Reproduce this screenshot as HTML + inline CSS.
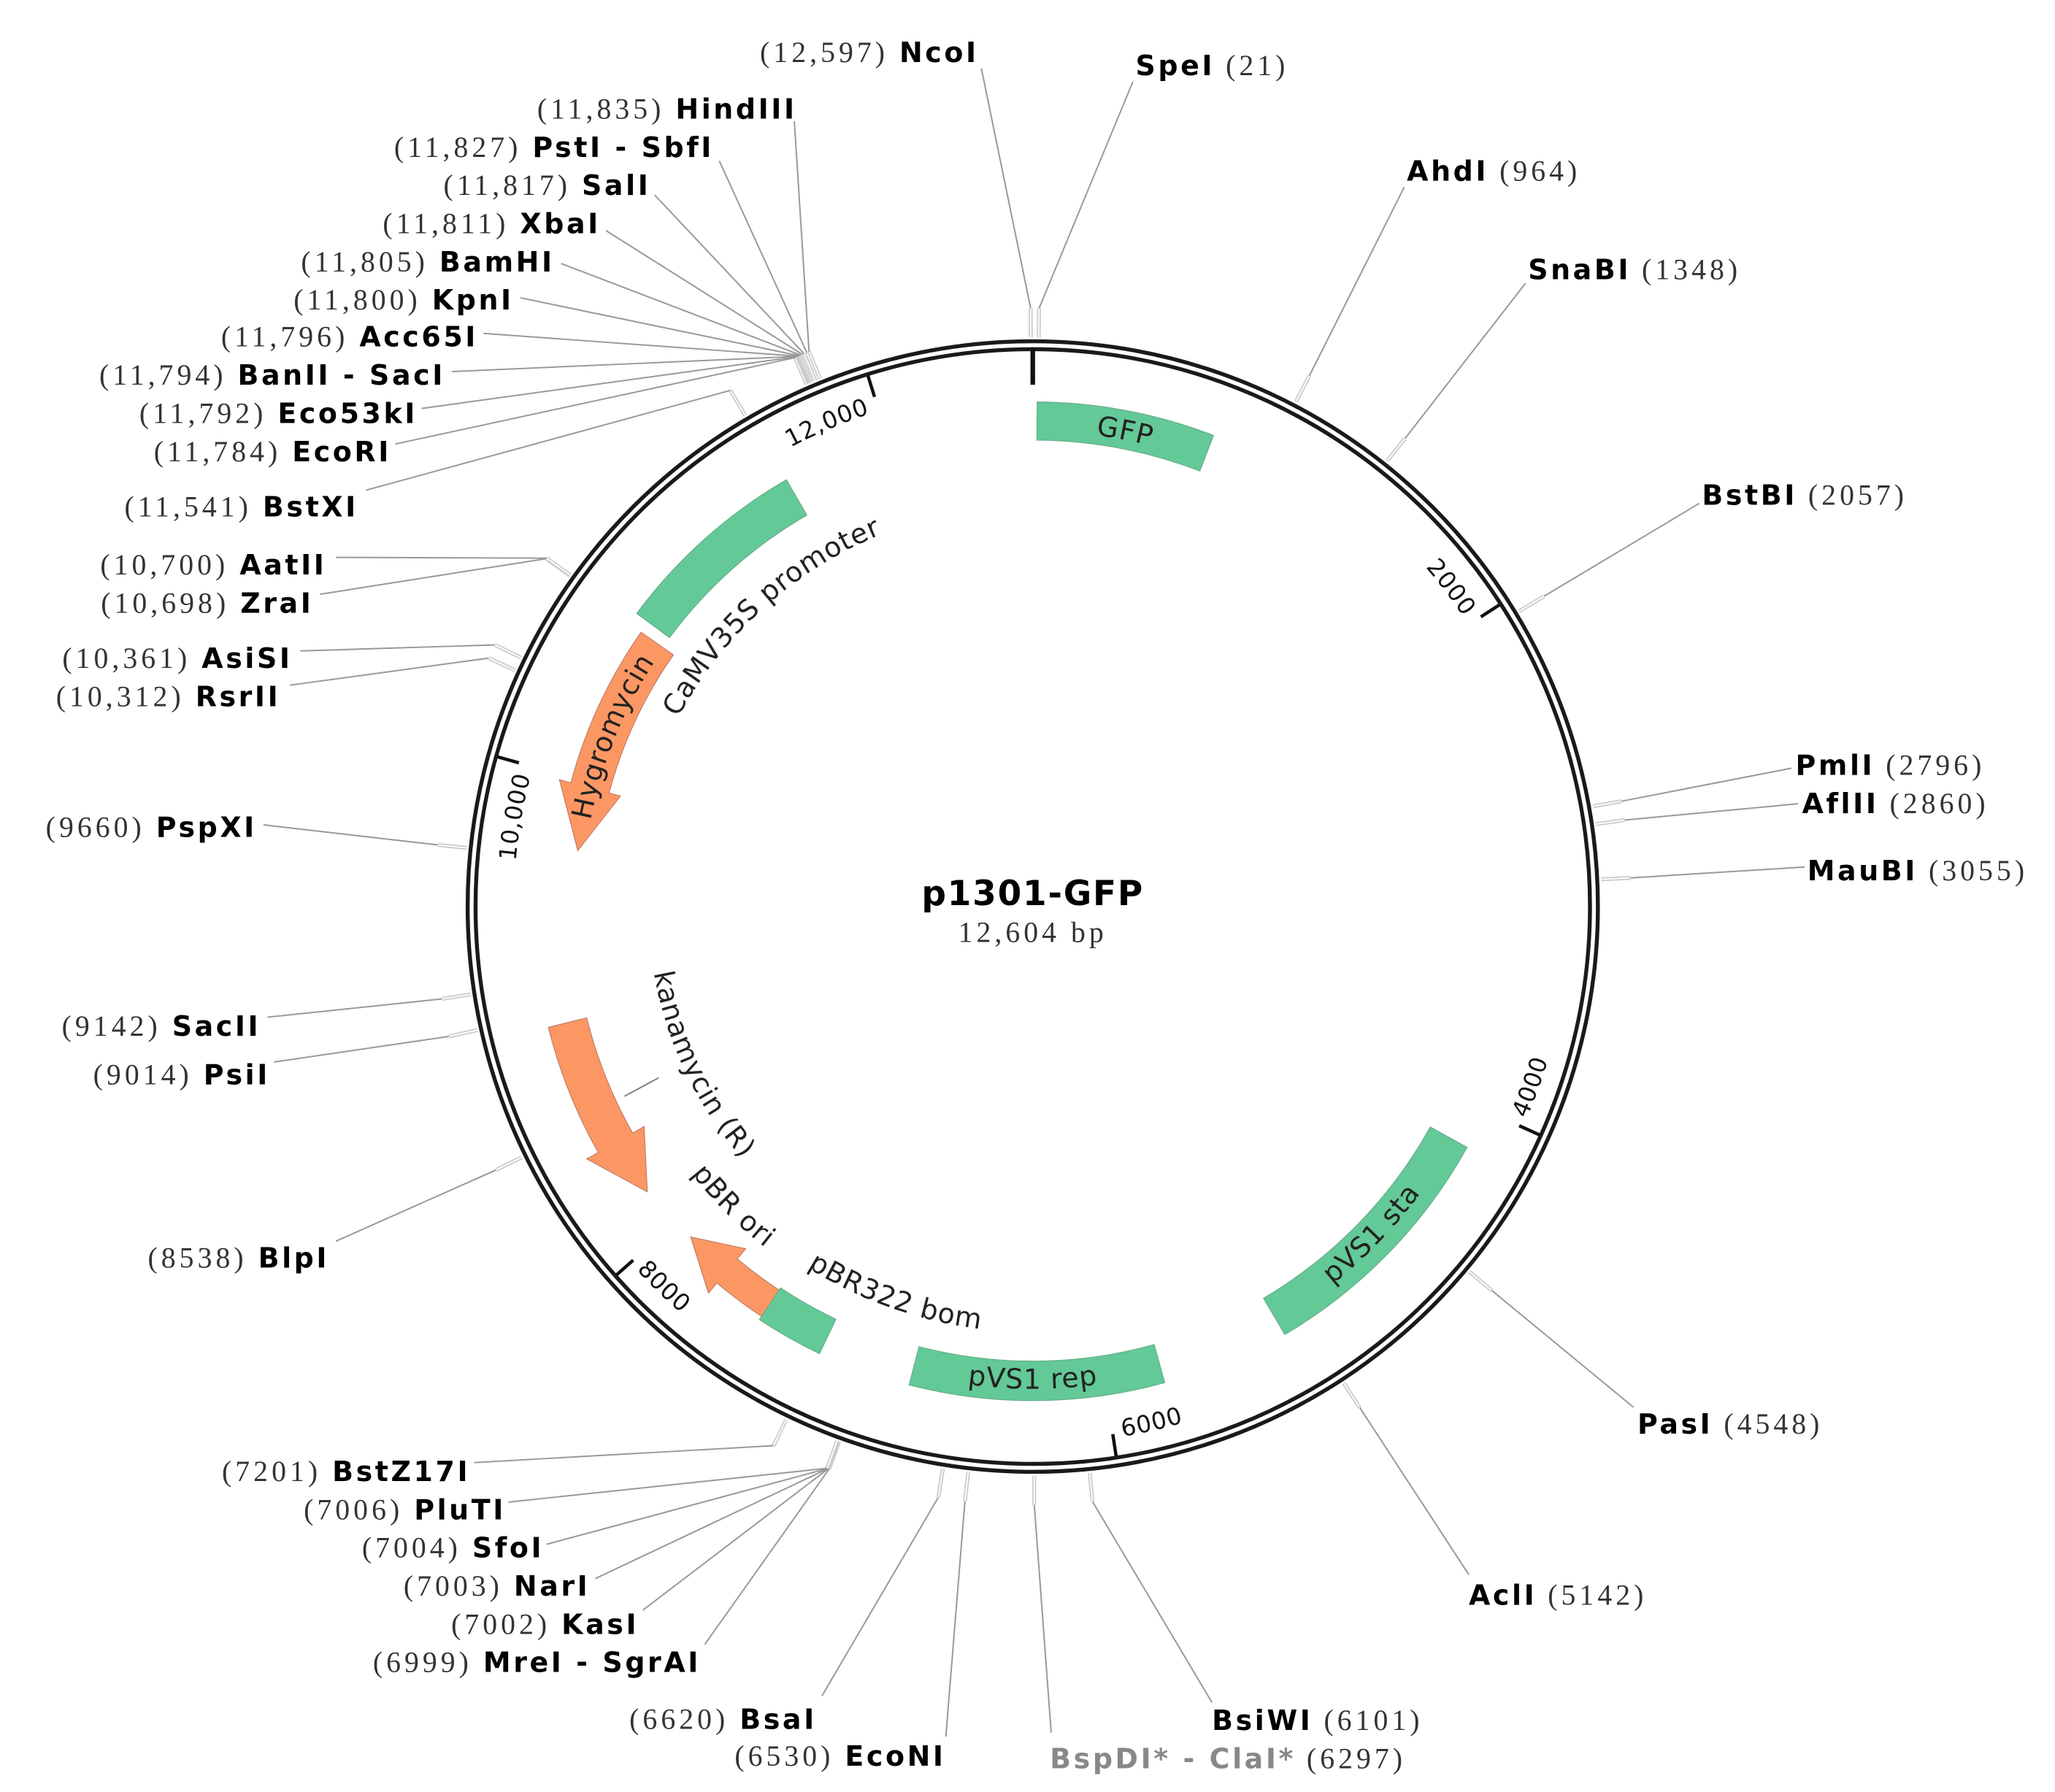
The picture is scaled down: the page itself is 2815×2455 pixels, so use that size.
<!DOCTYPE html>
<html><head><meta charset="utf-8">
<style>
html,body{margin:0;padding:0;background:#fff;}
svg{display:block;}
.n{font-family:"Liberation Serif","DejaVu Serif",serif;fill:#333;font-size:22px;letter-spacing:2.8px;}
.b{font-family:"DejaVu Sans","Liberation Sans",sans-serif;font-weight:bold;fill:#000;font-size:21px;letter-spacing:2px;}
.g{fill:#888;}
.f{font-family:"DejaVu Sans","Liberation Sans",sans-serif;font-size:21px;fill:#222;letter-spacing:0.5px;}
.t{font-family:"DejaVu Sans","Liberation Sans",sans-serif;font-size:18px;fill:#111;letter-spacing:0.5px;}
</style></head>
<body>
<svg width="2815" height="2455" viewBox="0 0 1560 1360" preserveAspectRatio="none" xmlns="http://www.w3.org/2000/svg">
<defs id="defs"></defs>
<g id="lines"></g>
<g id="feat"></g>
<circle cx="784" cy="688" r="426" fill="none" stroke="#1a1a1a" stroke-width="9"/>
<circle cx="784" cy="688" r="426" fill="none" stroke="#fff" stroke-width="3"/>
<g id="ticks"></g>

<text class="f"><textPath href="#pGFP" startOffset="50%" text-anchor="middle">GFP</textPath></text>
<text class="f"><textPath href="#pCaMV" startOffset="50%" text-anchor="middle">CaMV35S promoter</textPath></text>
<text class="f"><textPath href="#pHyg" startOffset="50%" text-anchor="middle">Hygromycin</textPath></text>
<text class="f"><textPath href="#pKan" startOffset="50%" text-anchor="middle">kanamycin (R)</textPath></text>
<text class="f"><textPath href="#pOri" startOffset="50%" text-anchor="middle">pBR ori</textPath></text>
<text class="f"><textPath href="#pBom" startOffset="50%" text-anchor="middle">pBR322 bom</textPath></text>
<text class="f"><textPath href="#pRep" startOffset="50%" text-anchor="middle">pVS1 rep</textPath></text>
<text class="f"><textPath href="#pSta" startOffset="50%" text-anchor="middle">pVS1 sta</textPath></text>
<line x1="474" y1="832" x2="500" y2="818" stroke="#777" stroke-width="1"/>

<text class="t"><textPath href="#t12" startOffset="100%" text-anchor="end">12,000</textPath></text>
<text class="t"><textPath href="#t2" startOffset="100%" text-anchor="end">2000</textPath></text>
<text class="t"><textPath href="#t4" startOffset="0%" text-anchor="start">4000</textPath></text>
<text class="t"><textPath href="#t6" startOffset="0%" text-anchor="start">6000</textPath></text>
<text class="t"><textPath href="#t8" startOffset="0%" text-anchor="start">8000</textPath></text>
<text class="t"><textPath href="#t10" startOffset="100%" text-anchor="end">10,000</textPath></text>

<text x="784" y="687" text-anchor="middle" font-family="DejaVu Sans, Liberation Sans, sans-serif" font-weight="bold" font-size="26" letter-spacing="1">p1301-GFP</text>
<text x="784" y="715" text-anchor="middle" class="n" font-size="21">12,604 bp</text>

<g xml:space="preserve">
<text x="862" y="57"><tspan class="b">SpeI</tspan><tspan class="n">   (21)</tspan></text>
<text x="1068" y="137"><tspan class="b">AhdI</tspan><tspan class="n">   (964)</tspan></text>
<text x="1160" y="212"><tspan class="b">SnaBI</tspan><tspan class="n">   (1348)</tspan></text>
<text x="1292" y="383"><tspan class="b">BstBI</tspan><tspan class="n">   (2057)</tspan></text>
<text x="1363" y="588"><tspan class="b">PmlI</tspan><tspan class="n">   (2796)</tspan></text>
<text x="1368" y="617"><tspan class="b">AflII</tspan><tspan class="n">   (2860)</tspan></text>
<text x="1372" y="668"><tspan class="b">MauBI</tspan><tspan class="n">   (3055)</tspan></text>
<text x="1243" y="1088"><tspan class="b">PasI</tspan><tspan class="n">   (4548)</tspan></text>
<text x="1115" y="1218"><tspan class="b">AclI</tspan><tspan class="n">   (5142)</tspan></text>
<text x="920" y="1313"><tspan class="b">BsiWI</tspan><tspan class="n">   (6101)</tspan></text>
<text x="797" y="1342"><tspan class="b g">BspDI* - ClaI*</tspan><tspan class="n">   (6297)</tspan></text>
</g>
<g xml:space="preserve" text-anchor="end">
<text x="743" y="47"><tspan class="n">(12,597)   </tspan><tspan class="b">NcoI</tspan></text>
<text x="605" y="90"><tspan class="n">(11,835)   </tspan><tspan class="b">HindIII</tspan></text>
<text x="542" y="119"><tspan class="n">(11,827)   </tspan><tspan class="b">PstI - SbfI</tspan></text>
<text x="494" y="148"><tspan class="n">(11,817)   </tspan><tspan class="b">SalI</tspan></text>
<text x="456" y="177"><tspan class="n">(11,811)   </tspan><tspan class="b">XbaI</tspan></text>
<text x="421" y="206"><tspan class="n">(11,805)   </tspan><tspan class="b">BamHI</tspan></text>
<text x="390" y="235"><tspan class="n">(11,800)   </tspan><tspan class="b">KpnI</tspan></text>
<text x="363" y="263"><tspan class="n">(11,796)   </tspan><tspan class="b">Acc65I</tspan></text>
<text x="338" y="292"><tspan class="n">(11,794)   </tspan><tspan class="b">BanII - SacI</tspan></text>
<text x="317" y="321"><tspan class="n">(11,792)   </tspan><tspan class="b">Eco53kI</tspan></text>
<text x="297" y="350"><tspan class="n">(11,784)   </tspan><tspan class="b">EcoRI</tspan></text>
<text x="272" y="392"><tspan class="n">(11,541)   </tspan><tspan class="b">BstXI</tspan></text>
<text x="248" y="436"><tspan class="n">(10,700)   </tspan><tspan class="b">AatII</tspan></text>
<text x="238" y="465"><tspan class="n">(10,698)   </tspan><tspan class="b">ZraI</tspan></text>
<text x="222" y="507"><tspan class="n">(10,361)   </tspan><tspan class="b">AsiSI</tspan></text>
<text x="213" y="536"><tspan class="n">(10,312)   </tspan><tspan class="b">RsrII</tspan></text>
<text x="195" y="635"><tspan class="n">(9660)   </tspan><tspan class="b">PspXI</tspan></text>
<text x="198" y="786"><tspan class="n">(9142)   </tspan><tspan class="b">SacII</tspan></text>
<text x="205" y="823"><tspan class="n">(9014)   </tspan><tspan class="b">PsiI</tspan></text>
<text x="250" y="962"><tspan class="n">(8538)   </tspan><tspan class="b">BlpI</tspan></text>
<text x="357" y="1124"><tspan class="n">(7201)   </tspan><tspan class="b">BstZ17I</tspan></text>
<text x="384" y="1153"><tspan class="n">(7006)   </tspan><tspan class="b">PluTI</tspan></text>
<text x="413" y="1182"><tspan class="n">(7004)   </tspan><tspan class="b">SfoI</tspan></text>
<text x="448" y="1211"><tspan class="n">(7003)   </tspan><tspan class="b">NarI</tspan></text>
<text x="485" y="1240"><tspan class="n">(7002)   </tspan><tspan class="b">KasI</tspan></text>
<text x="532" y="1269"><tspan class="n">(6999)   </tspan><tspan class="b">MreI - SgrAI</tspan></text>
<text x="620" y="1312"><tspan class="n">(6620)   </tspan><tspan class="b">BsaI</tspan></text>
<text x="718" y="1340"><tspan class="n">(6530)   </tspan><tspan class="b">EcoNI</tspan></text>
</g>

<script>
(function(){
var NS="http://www.w3.org/2000/svg",cx=784,cy=688,L=12604;
function P(a,r){var t=a*Math.PI/180;return [cx+r*Math.sin(t),cy-r*Math.cos(t)];}
function f(p){return p[0].toFixed(2)+" "+p[1].toFixed(2);}
function arc(r,a1,a2){var cw=a2>a1?1:0,lg=Math.abs(a2-a1)>180?1:0;return "A "+r+" "+r+" 0 "+lg+" "+cw+" "+f(P(a2,r));}
function el(n,at,par){var e=document.createElementNS(NS,n);for(var k in at)e.setAttribute(k,at[k]);document.getElementById(par).appendChild(e);return e;}
function path(id,r,a1,a2){el("path",{id:id,d:"M "+f(P(a1,r))+" "+arc(r,a1,a2),fill:"none"},"defs");}
var G="#63c996",O="#fc9763";
function band(a1,a2,ri,ro,c){el("path",{d:"M "+f(P(a1,ro))+" "+arc(ro,a1,a2)+" L "+f(P(a2,ri))+" "+arc(ri,a2,a1)+" Z",fill:c,stroke:"#6a8","stroke-width":0.6},"feat");}
function arrow(a1,a2,ri,ro,hl,hw,c){var s=a2>a1?1:-1,ah=a2-s*hl,rm=(ri+ro)/2;
el("path",{d:"M "+f(P(a1,ro))+" "+arc(ro,a1,ah)+" L "+f(P(ah,ro+hw))+" L "+f(P(a2,rm))+" L "+f(P(ah,ri-hw))+" L "+f(P(ah,ri))+" "+arc(ri,ah,a1)+" Z",fill:c,stroke:"#b76","stroke-width":0.6},"feat");}
band(0.5,21,354,383,G);
band(-30,-53.5,343,374,G);
arrow(-55,-83,333,363,8,9,O);
arrow(256,233.5,349,379,7,10,O);
arrow(213,226,349,373,6,10,O);
band(205.5,213.5,347,376,G);
band(164.5,194.5,345,375,G);
band(119,149.5,345,377,G);
path("pGFP",361,-10,32);
path("pCaMV",305,-90,6);
path("pHyg",342,-100,-36);
path("pKan",292,282,207);
path("pOri",329,250,200);
path("pBom",323,225,174);
path("pRep",366,210,150);
path("pSta",366,164,104);
var tk=[2000,4000,6000,8000,10000,12000];
tk.forEach(function(p){var a=p/L*360;el("line",{x1:P(a,422)[0],y1:P(a,422)[1],x2:P(a,405)[0],y2:P(a,405)[1],stroke:"#111","stroke-width":2.5},"ticks");});
el("line",{x1:784,y1:264,x2:784,y2:292,stroke:"#111","stroke-width":3.5},"ticks");
function ta(p){return p/L*360;}
path("t12",394,ta(12000)-30,ta(12000)-1);
path("t2",394,ta(2000)-30,ta(2000)-1);
path("t4",408,ta(4000)-1,ta(4000)-30);
path("t6",408,ta(6000)-1,ta(6000)-30);
path("t8",408,ta(8000)-1,ta(8000)-30);
path("t10",394,ta(10000)-40,ta(10000)-1);
var E=[[12597,745,52],[21,860,62],[964,1066,142],[1348,1158,215],[2057,1290,382],[2796,1360,583],[2860,1365,610],[3055,1370,658],
[4548,1240,1068],[5142,1115,1195],[6101,920,1292],[6297,798,1315],[6530,718,1318],[6620,624,1287],[6999,535,1248],[7002,488,1222],
[7003,452,1198],[7004,415,1172],[7006,386,1140],[7201,360,1110],[8538,255,942],[9014,208,806],[9142,203,772],[9660,200,626],
[10312,220,520],[10361,228,494],[10698,243,451],[10700,255,423],[11541,278,372],[11784,300,337],[11792,320,310],[11794,343,282],
[11796,367,253],[11800,395,226],[11805,426,200],[11811,460,175],[11817,497,148],[11827,546,122],[11835,603,92]];
E.forEach(function(e){var a=e[0]/L*360,p1=P(a,432),p2=P(a,454);
el("line",{x1:p1[0],y1:p1[1],x2:p2[0],y2:p2[1],stroke:"#ccc","stroke-width":3},"lines");
el("line",{x1:p1[0],y1:p1[1],x2:p2[0],y2:p2[1],stroke:"#fff","stroke-width":1},"lines");
el("line",{x1:p2[0],y1:p2[1],x2:e[1],y2:e[2],stroke:"#999","stroke-width":1.1},"lines");});
})();
</script>
</svg>
</body></html>
